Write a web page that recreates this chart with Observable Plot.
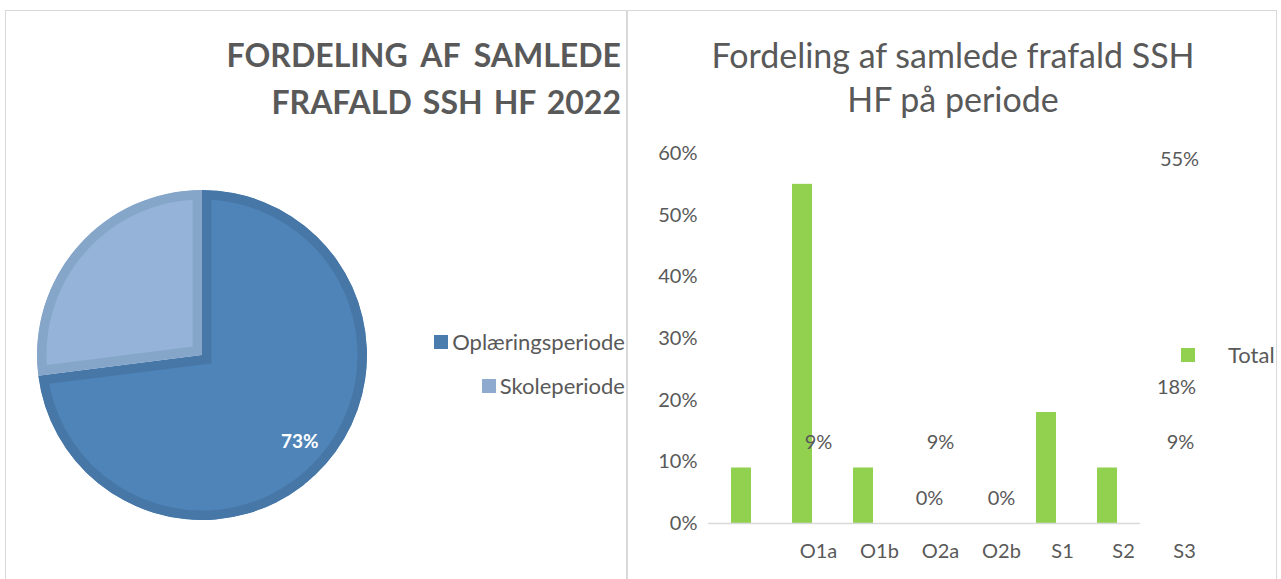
<!DOCTYPE html>
<html>
<head>
<meta charset="utf-8">
<script src="https://cdn.jsdelivr.net/npm/d3@7"></script>
<script src="https://cdn.jsdelivr.net/npm/@observablehq/plot@0.6"></script>
<style>
  html, body { margin: 0; padding: 0; background: #fff; }
  #root { position: relative; width: 1281px; height: 579px; overflow: hidden; font-family: Lato, "Open Sans", sans-serif; color: #595959; }
  .abs { position: absolute; }
  .frame { position: absolute; left: 5px; top: 10px; width: 1272px; height: 600px; border: 1.5px solid #d9d9d9; box-sizing: border-box; }
  .divider { position: absolute; left: 626px; top: 10px; width: 1.5px; height: 570px; background: #d9d9d9; }
  .ltitle { position: absolute; right: 660px; top: 31px; font-weight: 700; font-size: 32px; line-height: 47px; text-align: right; white-space: nowrap; color: #595959; }
  .rtitle { position: absolute; left: 628px; width: 650px; top: 33px; font-size: 34px; line-height: 44px; text-align: center; white-space: nowrap; color: #595959; }
  .leg { position: absolute; display: flex; align-items: center; font-size: 22px; white-space: nowrap; color: #595959; }
  .sw { width: 14px; height: 14px; display: inline-block; }
</style>
</head>
<body>
<div id="root">
  <div class="frame"></div>
  <div class="divider"></div>
  <div id="pie" class="abs" style="left:6px; top:130px;"></div>
  <div id="bars" class="abs" style="left:628px; top:130px;"></div>
  <div id="ltitle" class="ltitle"></div>
  <div id="rtitle" class="rtitle"></div>
  <div id="pieLegend"></div>
  <div id="barLegend"></div>
</div>
<script>
// ---------- data ----------
const pieTitle = ["FORDELING AF SAMLEDE", "FRAFALD SSH HF 2022"];
const pieCategories = ["Oplæringsperiode", "Skoleperiode"];
const pieValues = [0.73, 0.27];
const pieShownLabels = ["73%", null];

const barTitle = ["Fordeling af samlede frafald SSH", "HF på periode"];
const barCategories = ["O1a", "O1b", "O2a", "O2b", "S1", "S2", "S3"];
const barValues = [0.09, 0.55, 0.09, 0.00, 0.00, 0.18, 0.09];
const barLabels = ["9%", "55%", "9%", "0%", "0%", "18%", "9%"];
const barSeries = "Total";
const yTicks = [0, 0.1, 0.2, 0.3, 0.4, 0.5, 0.6];

// ---------- styles / layout ----------
const textColor = "#595959";
const pieFill = ["#4f84b9", "#95b3d9"];
const pieStroke = ["#4777a7", "#86a6c9"];
const pieSwatch = ["#4a7cae", "#8eabcf"];
const green = "#92d050";
const labelDx = [77, 377, 77, 77, -56, 130, 73]; // where the source chart placed each data label
const titleWordSpacing = [6, 3.3];

// titles
document.getElementById("ltitle").innerHTML = pieTitle
  .map((t, i) => `<div style="word-spacing:${titleWordSpacing[i]}px">${t}</div>`).join("");
document.getElementById("rtitle").innerHTML = barTitle.join("<br>");

// ---------- pie ----------
const pieData = pieCategories.map((c, i) => ({category: c, value: pieValues[i], label: pieShownLabels[i], i}));
const pieMark = (index, scales, values, dims, context) => {
  const g = d3.create("svg:g");
  const cx = scales.x(0), cy = scales.y(0);
  const r = Math.abs(scales.x(1) - scales.x(0));
  const arcs = d3.pie().sort(null).value(d => d.value)(pieData);
  const arc = d3.arc().innerRadius(0).outerRadius(r);
  const lab = d3.arc().innerRadius(r * 0.58).outerRadius(r);
  const defs = g.append("defs");
  arcs.forEach((a, k) => {
    const id = "pieclip" + k;
    defs.append("clipPath").attr("id", id).append("path").attr("d", arc(a));
    g.append("path")
      .attr("transform", `translate(${cx},${cy})`)
      .attr("d", arc(a))
      .attr("fill", pieFill[k])
      .attr("stroke", pieStroke[k])
      .attr("stroke-width", 19)
      .attr("clip-path", `url(#${id})`);
  });
  arcs.forEach((a, k) => {
    if (!a.data.label) return;
    const [lx, ly] = lab.centroid(a);
    g.append("text")
      .attr("x", cx + lx).attr("y", cy + ly)
      .attr("text-anchor", "middle").attr("dy", "0.35em")
      .attr("fill", "#ffffff").attr("font-weight", 700).attr("font-size", 19)
      .text(a.data.label);
  });
  return g.node();
};

const piePlot = Plot.plot({
  width: 620, height: 449,
  marginLeft: 31, marginRight: 259, marginTop: 60, marginBottom: 59,
  x: {domain: [-1, 1], axis: null},
  y: {domain: [1, -1], axis: null},
  style: {fontFamily: "Lato, sans-serif", background: "transparent"},
  marks: [pieMark]
});
document.getElementById("pie").appendChild(piePlot);

// pie legend
const pieLeg = document.getElementById("pieLegend");
const legTops = [328, 372];
pieCategories.forEach((c, i) => {
  const d = document.createElement("div");
  d.className = "leg";
  d.style.right = (1281 - 625) + "px";
  d.style.top = legTops[i] + "px";
  d.innerHTML = `<span class="sw" style="background:${pieSwatch[i]};margin-right:4px"></span><span>${c}</span>`;
  pieLeg.appendChild(d);
});

// ---------- bars ----------
const barData = barCategories.map((c, i) => ({category: c, value: barValues[i], label: barLabels[i], dx: labelDx[i]}));

const barPlot = Plot.plot({
  width: 650, height: 449,
  marginLeft: 80, marginRight: 138, marginTop: 23, marginBottom: 56,
  style: {fontFamily: "Lato, sans-serif", fontSize: "20px", color: textColor, background: "transparent"},
  x: {domain: barCategories, paddingInner: 0.676, paddingOuter: 0.338},
  y: {domain: [0, 0.6]},
  marks: [
    Plot.barY(barData, {x: "category", y: "value", fill: green}),
    Plot.ruleY([0], {stroke: "#d9d9d9", strokeWidth: 1.5}),
    Plot.axisY({ticks: yTicks, tickFormat: d3.format(".0%"), tickSize: 0, tickPadding: 11, label: null, fill: textColor}),
    Plot.axisX({tickSize: 0, tickPadding: 20, dx: 77, label: null, fill: textColor}),
    ...barData.map(d => Plot.text([d], {x: "category", y: "value", text: "label", dx: d.dx, dy: -25, fill: textColor, fontSize: 20}))
  ]
});
document.getElementById("bars").appendChild(barPlot);

// bar legend
const bl = document.createElement("div");
bl.className = "leg";
bl.style.left = "1181px";
bl.style.top = "341px";
bl.innerHTML = `<span class="sw" style="background:${green};margin-right:33px"></span><span>${barSeries}</span>`;
document.getElementById("barLegend").appendChild(bl);
</script>
</body>
</html>
